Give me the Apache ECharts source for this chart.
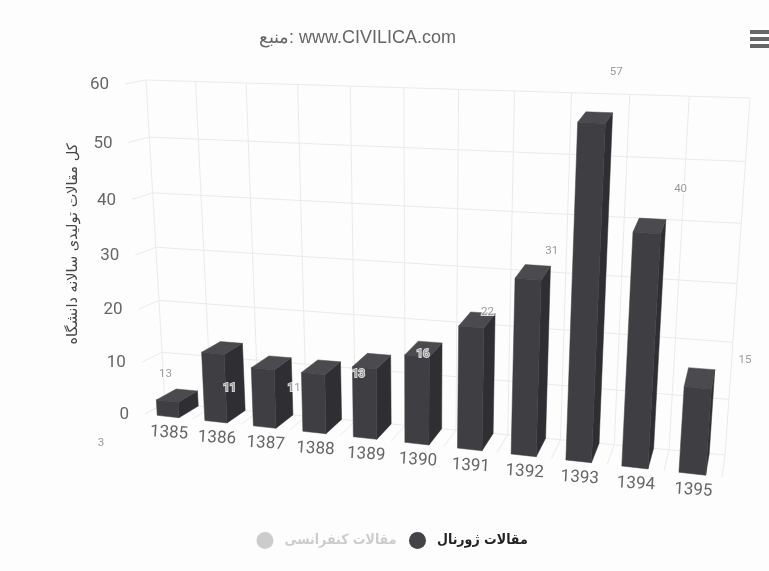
<!DOCTYPE html>
<html>
<head>
<meta charset="utf-8">
<style>html,body{margin:0;padding:0;background:#fdfdfd}#c{width:769px;height:571px}</style>
<script src="https://cdn.jsdelivr.net/npm/echarts@6/dist/echarts.min.js"></script>
</head>
<body>
<div id="c"></div>
<script>
const categories = ['1385','1386','1387','1388','1389','1390','1391','1392','1393','1394','1395'];
const journalValues = [3,13,11,11,13,16,22,31,57,40,15];
const conferenceValues = [];
const valueTicks = [0,10,20,30,40,50,60];
const journalName = 'مقالات ژورنال';
const conferenceName = 'مقالات کنفرانسی';
const axisTitle = 'کل مقالات تولیدی سالانه دانشگاه';
const titleText = 'منبع: www.CIVILICA.com';

// view of the 3D box: unit square (u along categories, v along values) to screen
const backQuad = [[165,403],[725,455],[750,98],[146,80]];
const frontQuad = [[145,414],[722,477],[748,110],[125,84]];

function homography(q){
  const [p0,p1,p2,p3] = q;
  const dx1=p1[0]-p2[0], dx2=p3[0]-p2[0], sx=p0[0]-p1[0]+p2[0]-p3[0];
  const dy1=p1[1]-p2[1], dy2=p3[1]-p2[1], sy=p0[1]-p1[1]+p2[1]-p3[1];
  const d=dx1*dy2-dx2*dy1;
  const g=(sx*dy2-dx2*sy)/d, h=(dx1*sy-sx*dy1)/d;
  const a=p1[0]-p0[0]+g*p1[0], b=p3[0]-p0[0]+h*p3[0], c=p0[0];
  const e=p1[1]-p0[1]+g*p1[1], f=p3[1]-p0[1]+h*p3[1], k=p0[1];
  return (u,v)=>{const w=g*u+h*v+1;return [(a*u+b*v+c)/w,(e*u+f*v+k)/w];};
}
const backH=homography(backQuad), frontH=homography(frontQuad);
function project(u,v,z){
  const b=backH(u,v), f=frontH(u,v);
  return [f[0]+(b[0]-f[0])*z, f[1]+(b[1]-f[1])*z];
}
// library scale -> normalised position
function scaler(api){
  const o=api.coord([0,0]), t=api.coord([0,60]);
  return (cat,val)=>({
    u:(cat+0.5)/categories.length,
    v:(o[1]-api.coord([0,val])[1])/(o[1]-t[1])
  });
}
const COL={front:'#3f3e42',top:'#4b4a4e',side:'#2f2e32',grid:'#ebebeb',tick:'#666666'};

function poly(points,fill){
  return {type:'polygon',shape:{points},style:{fill,stroke:fill,lineWidth:0.5}};
}
function line(a,b){
  return {type:'line',shape:{x1:a[0],y1:a[1],x2:b[0],y2:b[1]},style:{stroke:COL.grid,lineWidth:1,fill:null}};
}
function renderFrame(params,api){
  const s=scaler(api), n=categories.length, ch=[];
  for(let i=0;i<=n;i++){
    const u=i/n;
    ch.push(line(project(u,0,1),project(u,1,1)));
    ch.push(line(project(u,0,1),project(u,0,0)));
  }
  valueTicks.forEach(t=>{
    const v=s(0,t).v;
    ch.push(line(project(0,v,1),project(1,v,1)));
    ch.push(line(project(0,v,1),project(0,v,0)));
    const p=project(0,v,0);
    ch.push({type:'text',x:p[0]-16,y:p[1]+1,style:{text:String(t),textAlign:'right',textVerticalAlign:'middle',fill:COL.tick,font:'17px Roboto'}});
  });
  categories.forEach((c,i)=>{
    const p=project(s(i,0).u,0,0);
    ch.push({type:'text',x:p[0]+0.5,y:p[1]+16.5,rotation:-0.06,style:{text:c,textAlign:'center',textVerticalAlign:'middle',fill:COL.tick,font:'17px Roboto'}});
  });
  return {type:'group',children:ch};
}
function renderBar(params,api){
  const s=scaler(api), i=api.value(0), val=api.value(1), n=categories.length;
  const vTop=s(i,val).v;
  const u0=(i+0.26)/n, u1=(i+0.72)/n;
  const P=(u,v,z)=>project(u,v,z);
  return {type:'group',children:[
    poly([P(u1,0,0),P(u1,0,1),P(u1,vTop,1),P(u1,vTop,0)],COL.side),
    poly([P(u0,vTop,0),P(u1,vTop,0),P(u1,vTop,1),P(u0,vTop,1)],COL.top),
    poly([P(u0,0,0),P(u1,0,0),P(u1,vTop,0),P(u0,vTop,0)],COL.front)
  ]};
}

const chart=echarts.init(document.getElementById('c'),null,{renderer:'canvas'});
chart.setOption({
  animation:false,
  backgroundColor:'#fdfdfd',
  title:{text:titleText,left:254,top:24,textStyle:{fontFamily:'Liberation Sans',fontSize:18,fontWeight:'normal',color:'#666666'}},
  legend:{
    data:[{name:conferenceName,icon:'circle'},{name:journalName,icon:'circle'}],
    selected:{[conferenceName]:false},
    left:251.5,top:527,itemWidth:17,itemHeight:17,itemGap:12.5,
    inactiveColor:'#cccccc',
    textStyle:{fontFamily:'DejaVu Sans Condensed',fontSize:14,fontWeight:'bold',color:'#222222',padding:[0,0,0,6],verticalAlign:'top',lineHeight:8}
  },
  grid:{left:101,width:644,top:51.4,height:412.2},
  xAxis:{type:'category',boundaryGap:false,data:categories,show:false},
  yAxis:{type:'value',min:0,max:60,interval:10,show:false},
  graphic:[
    {type:'text',x:73,y:244,rotation:Math.PI/2,style:{text:axisTitle,textAlign:'center',textVerticalAlign:'middle',fill:'#444444',font:'14.5px "DejaVu Sans"'},z:5},
    {type:'rect',shape:{x:750,y:30,width:19,height:4},style:{fill:'#666666'}},
    {type:'rect',shape:{x:750,y:37,width:19,height:4},style:{fill:'#666666'}},
    {type:'rect',shape:{x:750,y:44,width:19,height:4},style:{fill:'#666666'}}
  ],
  series:[
    {type:'custom',silent:true,z:1,data:[[0,0]],encode:{x:0,y:1},renderItem:renderFrame},
    {type:'custom',name:journalName,z:2,encode:{x:0,y:1},
      itemStyle:{color:'#434348'},
      data:journalValues.map((v,i)=>[i,v]),renderItem:renderBar},
    {type:'scatter',name:journalName,z:3,symbolSize:1,itemStyle:{color:'rgba(0,0,0,0)'},
      data:journalValues.map((v,i)=>[i,v]),
      label:{show:true,position:'inside',formatter:p=>String(p.value[1]),fontFamily:'Roboto',fontSize:11.5,color:'#808080',textBorderColor:'#ffffff',textBorderWidth:2}},
    {type:'bar',name:conferenceName,itemStyle:{color:'#bbbbbb'},data:conferenceValues}
  ]
});
</script>
</body>
</html>
